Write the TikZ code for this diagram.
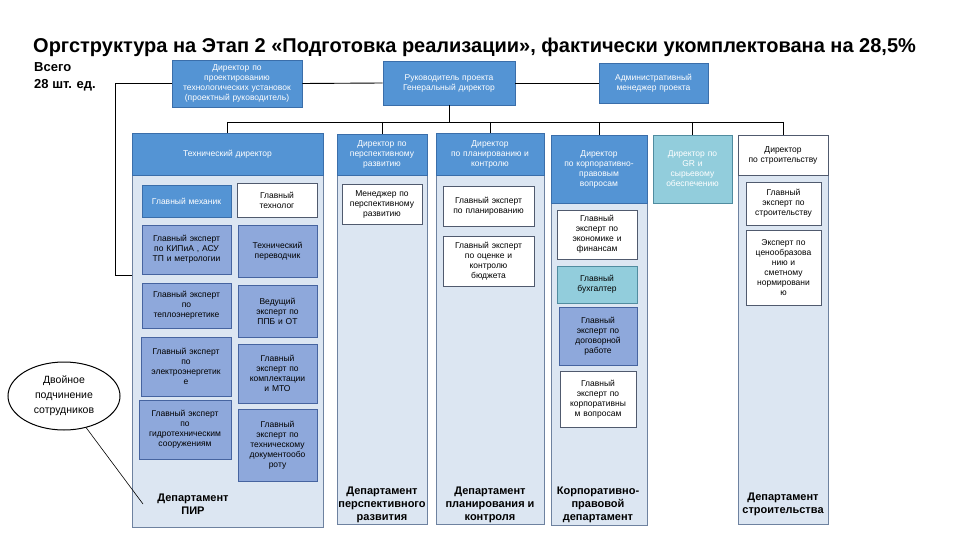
\documentclass[tikz,border=0pt]{standalone}
\usepackage{fontspec}
\setmainfont{Liberation Sans}
\usetikzlibrary{shapes.geometric}
\definecolor{hdrblue}{RGB}{84,148,212}
\definecolor{hdrline}{RGB}{58,110,170}
\definecolor{panelfill}{RGB}{220,230,242}
\definecolor{panelline}{RGB}{110,130,160}
\definecolor{pbfill}{RGB}{142,168,219}
\definecolor{pbline}{RGB}{70,100,160}
\definecolor{tealfill}{RGB}{146,205,220}
\definecolor{tealline}{RGB}{80,140,160}
\definecolor{wline}{RGB}{80,90,110}
\newcommand\orgbox[7]{%
  \pgfmathsetmacro\obcx{(#2+#4)/2}%
  \pgfmathsetmacro\obcy{(#3+#5)/2}%
  \pgfmathsetmacro\obw{#4-#2}%
  \pgfmathsetmacro\obh{#5-#3}%
  \node[#6,minimum width=\obw pt,minimum height=\obh pt,text width=\obw pt] (#1) at (\obcx,\obcy) {#7};%
}
\tikzset{
  base/.style={rectangle,inner sep=0pt,align=center,line width=0.7pt,font=\fontsize{8.5}{10}\selectfont},
  hdr/.style={base,fill=hdrblue,draw=hdrline,text=white},
  wbox/.style={base,fill=white,draw=wline,text=black},
  pbox/.style={base,fill=pbfill,draw=pbline,text=black},
  tbox/.style={base,fill=tealfill,draw=tealline,text=black},
  grbox/.style={base,fill=tealfill,draw=tealline,text=white},
  panel/.style={base,fill=panelfill,draw=panelline},
  dept/.style={align=center,inner sep=0pt,font=\bfseries\fontsize{11}{13}\selectfont},
  conn/.style={draw=black,line width=0.9pt}
}
\begin{document}
\begin{tikzpicture}[x=1pt,y=-1pt]
\useasboundingbox (0,0) rectangle (960,540);
\fill[white] (0,0) rectangle (960,540);

\node[anchor=base west,inner sep=0pt,font=\bfseries\fontsize{20}{23}\selectfont] (title) at (33,53)
  {Оргструктура на Этап 2 «Подготовка реализации», фактически укомплектована на 28,5\%};
\node[anchor=north west,inner sep=0pt,align=left,font=\bfseries\fontsize{13}{17}\selectfont] (vsego) at (34,62)
  {Всего\\28 шт. ед.};

% top row
\orgbox{dirproj}{172}{60}{302}{107}{hdr}{Директор по\\проектированию\\технологических установок\\(проектный руководитель)}
\orgbox{ruk}{383}{61}{515}{105}{hdr}{Руководитель проекта\\Генеральный директор}
\orgbox{adm}{599}{63}{708}{103}{hdr}{Административный\\менеджер проекта}

% panels
\orgbox{tdp}{132}{133}{323}{527}{panel}{}
\orgbox{pep}{337}{134}{427}{524}{panel}{}
\orgbox{plp}{436}{133}{544}{524}{panel}{}
\orgbox{cop}{551}{135}{647}{525}{panel}{}
\orgbox{stp}{738}{135}{828}{524}{panel}{}

% headers
\orgbox{tdh}{132}{133}{323}{175}{hdr}{Технический директор}
\orgbox{peh}{337}{134}{427}{175}{hdr}{Директор по\\перспективному\\развитию}
\orgbox{plh}{436}{133}{544}{175}{hdr}{Директор\\по планированию и\\контролю}
\orgbox{coh}{551}{135}{647}{203}{hdr}{Директор\\по корпоративно-\\правовым\\вопросам}
\orgbox{grh}{653}{135}{732}{203}{grbox}{Директор по\\GR и\\сырьевому\\обеспечению}
\orgbox{sth}{738}{135}{828}{175}{wbox}{Директор\\по строительству}

% technical director department
\orgbox{mech}{142}{185}{231}{217}{hdr}{Главный механик}
\orgbox{tech}{237}{183}{317}{217}{wbox}{Главный\\технолог}
\orgbox{kip}{142}{225}{231}{274}{pbox}{Главный эксперт\\по КИПиА , АСУ\\ТП и метрологии}
\orgbox{transl}{238}{225}{317}{277}{pbox}{Технический\\переводчик}
\orgbox{teplo}{142}{283}{231}{328}{pbox}{Главный эксперт\\по\\теплоэнергетике}
\orgbox{ppb}{238}{285}{317}{337}{pbox}{Ведущий\\эксперт по\\ППБ и ОТ}
\orgbox{elec}{141}{337}{231}{396}{pbox}{Главный эксперт\\по\\электроэнергетик\\е}
\orgbox{mto}{238}{344}{317}{403}{pbox}{Главный\\эксперт по\\комплектации\\и МТО}
\orgbox{hydro}{139}{400}{231}{459}{pbox}{Главный эксперт\\по\\гидротехническим\\сооружениям}
\orgbox{docs}{238}{409}{317}{481}{pbox}{Главный\\эксперт по\\техническому\\документообо\\роту}
\node[dept] (pirl) at (193,504) {Департамент\\ПИР};

% perspective
\orgbox{mgr}{342}{184}{422}{224}{wbox}{Менеджер по\\перспективному\\развитию}
\node[dept] (perl) at (382,505) {Департамент\\перспективного\\развития};

% planning
\orgbox{plan}{443}{186}{534}{226}{wbox}{Главный эксперт\\по планированию}
\orgbox{budg}{443}{236}{534}{286}{wbox}{Главный эксперт\\по оценке и\\контролю\\бюджета}
\node[dept] (plal) at (490,505) {Департамент\\планирования и\\контроля};

% corporate
\orgbox{econ}{557}{210}{637}{259}{wbox}{Главный\\эксперт по\\экономике и\\финансам}
\orgbox{buh}{557}{266}{637}{303}{tbox}{Главный\\бухгалтер}
\orgbox{dog}{559}{307}{637}{365}{pbox}{Главный\\эксперт по\\договорной\\работе}
\orgbox{corq}{560}{371}{636}{427}{wbox}{Главный\\эксперт по\\корпоративны\\м вопросам}
\node[dept] (corl) at (598,505) {Корпоративно-\\правовой\\департамент};

% construction
\orgbox{stex}{746}{182}{821}{225}{wbox}{Главный\\эксперт по\\строительству}
\orgbox{price}{746}{230}{821}{305}{wbox}{Эксперт по\\ценообразова\\нию и\\сметному\\нормировани\\ю}
\node[dept] (stl) at (783,504) {Департамент\\строительства};

% ellipse note
\node[ellipse,draw=black,line width=1pt,minimum width=112pt,minimum height=68pt,inner sep=0pt,align=center,font=\fontsize{10.5}{15}\selectfont] (ell) at (64,396) {Двойное\\подчинение\\сотрудников};
\coordinate (pirtip) at (143,504);
\draw[line width=0.6pt] (ell.-55) -- (pirtip);

% connectors
\coordinate (bus) at (0,122);
\coordinate (lc1) at (115,0);
\coordinate (lc2) at (0,275);
\draw[conn] (dirproj.east) -- (ruk.west);
\draw[conn] (ruk.east) -- (adm.west);
\draw[conn] (dirproj.west) -- (lc1 |- dirproj.west) -- (lc1 |- lc2) -- (tdp.west |- lc2);
\draw[conn] (ruk.south) -- (ruk.south |- bus);
\draw[conn] (tdh.north |- bus) -- (sth.north |- bus);
\draw[conn] (tdh.north |- bus) -- (tdh.north);
\draw[conn] (peh.north |- bus) -- (peh.north);
\draw[conn] (plh.north |- bus) -- (plh.north);
\draw[conn] (coh.north |- bus) -- (coh.north);
\draw[conn] (grh.north |- bus) -- (grh.north);
\draw[conn] (sth.north |- bus) -- (sth.north);
\end{tikzpicture}
\end{document}
